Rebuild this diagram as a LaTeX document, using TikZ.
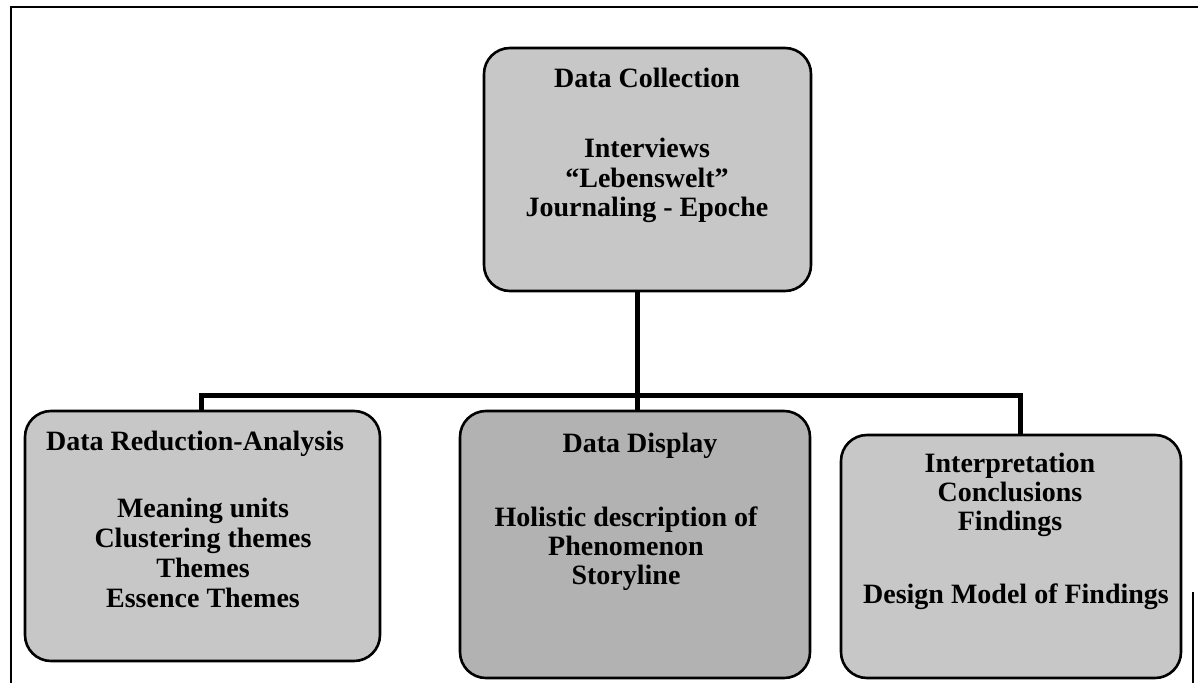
\documentclass[tikz,border=0pt]{standalone}
\usepackage{fontspec}
\setmainfont{Liberation Serif}
\pgfdeclarelayer{links}
\pgfsetlayers{links,main}
\begin{document}
\begin{tikzpicture}[x=1pt,y=-1pt,
  stagebox/.style={draw=black, line width=2.6pt, rounded corners=26pt, fill=black!22, inner sep=0pt},
  midbox/.style={stagebox, fill=black!30},
  link/.style={draw=black, line width=5pt},
  frameline/.style={draw=black, line width=1.6pt},
  lbl/.style={anchor=base, inner sep=0pt, font=\fontsize{28}{30}\selectfont\bfseries}]
\useasboundingbox (0,0) rectangle (1198,682);

% outer frame
\draw[frameline] (11,690) -- (11,7) -- (1200,7);
\draw[frameline] (1193,592) -- (1193,690);

% boxes
\node[stagebox, minimum width=327pt, minimum height=243pt] (dc) at (647.5,169.5) {};
\node[stagebox, minimum width=355pt, minimum height=250pt] (dr) at (202.5,536) {};
\node[midbox,  minimum width=350pt, minimum height=267pt] (dd) at (635,544.5) {};
\node[stagebox, minimum width=340pt, minimum height=243pt] (ip) at (1011,556.5) {};

% connectors, kept behind the boxes
\coordinate (bus) at (637,395);
\coordinate (lbus) at (201,395);
\coordinate (rbus) at (1020,395);
\begin{pgfonlayer}{links}
\draw[link] (dc.center -| bus) -- (bus);
\draw[link] (dr.center -| lbus) -- (lbus) -- (rbus) -- (ip.center -| rbus);
\draw[link] (bus) -- (dd.center -| bus);
\end{pgfonlayer}

% Data Collection
\node[lbl] (dc1) at (647,88) {Data Collection};
\node[lbl] (dc2) at (647,157) {Interviews};
\node[lbl] (dc3) at (647,187) {“Lebenswelt”};
\node[lbl] (dc4) at (647,216) {Journaling - Epoche};

% Data Reduction-Analysis
\node[lbl] (dr1) at (195,450) {Data Reduction-Analysis};
\node[lbl] (dr2) at (203,517) {Meaning units};
\node[lbl] (dr3) at (203,547) {Clustering themes};
\node[lbl] (dr4) at (203,577) {Themes};
\node[lbl] (dr5) at (203,607) {Essence Themes};

% Data Display
\node[lbl] (dd1) at (640,452) {Data Display};
\node[lbl] (dd2) at (626,526) {Holistic description of};
\node[lbl] (dd3) at (626,555) {Phenomenon};
\node[lbl] (dd4) at (626,584) {Storyline};

% Interpretation
\node[lbl] (ip1) at (1010,472) {Interpretation};
\node[lbl] (ip2) at (1010,501) {Conclusions};
\node[lbl] (ip3) at (1010,530) {Findings};
\node[lbl] (ip4) at (1016,603) {Design Model of Findings};
\end{tikzpicture}
\end{document}
